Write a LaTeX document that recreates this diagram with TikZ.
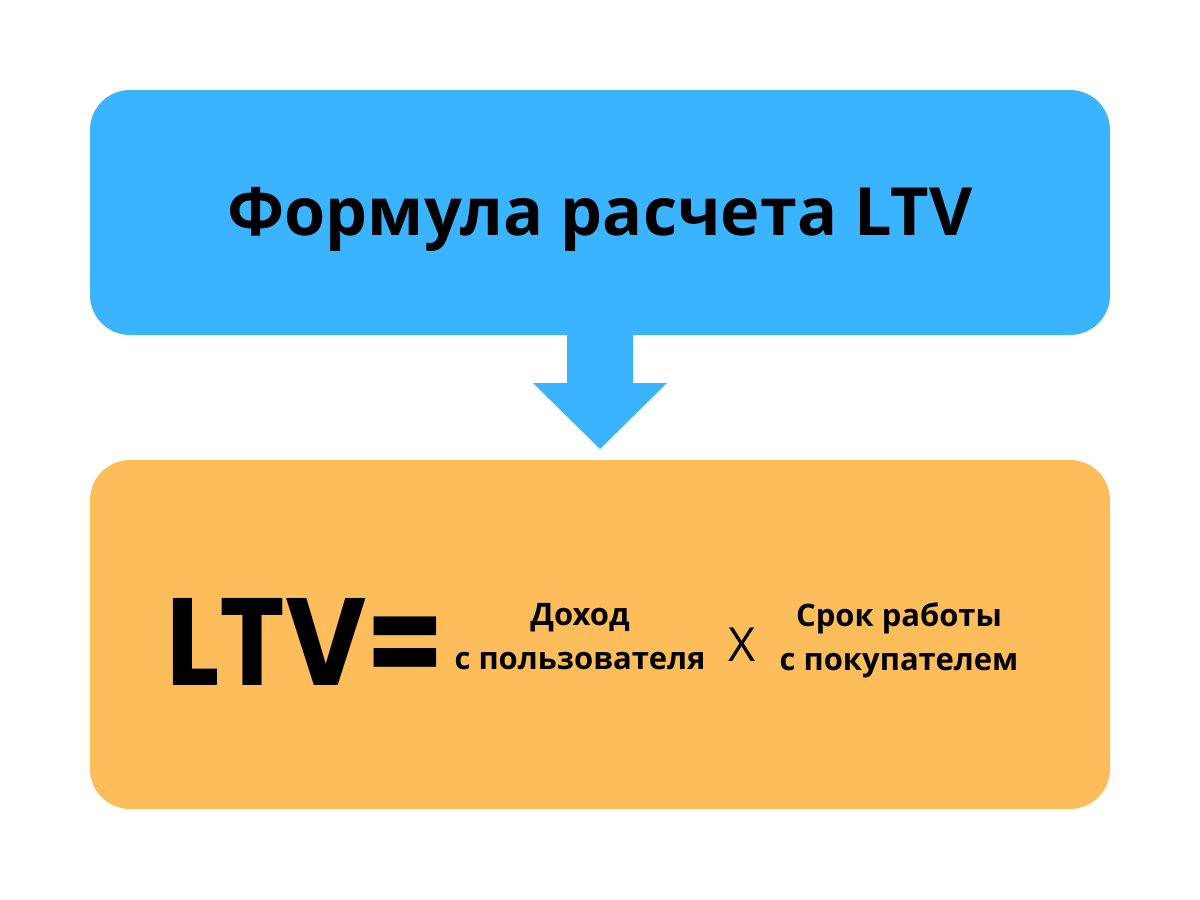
\documentclass[tikz,border=0pt]{standalone}
\usepackage{fontspec}
\setmainfont{Open Sans}
\newfontfamily\popfont{Poppins}
\definecolor{boxblue}{RGB}{59,180,255}
\definecolor{boxorange}{RGB}{253,189,90}
\begin{document}
\begin{tikzpicture}[x=1pt,y=-1pt,
  panel/.style={rounded corners=40pt},
  title/.style={font=\fontsize{66.5}{74}\selectfont\bfseries, text=black, inner sep=0pt},
  small/.style={font=\fontsize{31}{44}\selectfont\bfseries, align=center, inner sep=0pt},
  big/.style={font=\fontsize{124}{126}\selectfont\popfont\bfseries, inner sep=0pt, anchor=base west},
  times/.style={font=\fontsize{47}{50}\selectfont, inner sep=0pt}]
\useasboundingbox (0,0) rectangle (1200,900);
\fill[white] (0,0) rectangle (1200,900);
\fill[boxblue, panel] (90,90) rectangle (1110,335);
\fill[boxorange, panel] (90,460) rectangle (1110,809);
\fill[boxblue] (567,330) -- (633,330) -- (633,383) -- (667,383) -- (600,449) -- (533,383) -- (567,383) -- cycle;
\node[title] (t) at (600,219) {Формула расчета LTV};
\node[big] (ltv) at (166,685) {\scalebox{0.9}[1]{LTV=}};
\node[small] (a) at (580,637) {Доход\\с пользователя};
\node[times] (x) at (742,645) {X};
\node[small] (b) at (899,640) {Срок работы\\с покупателем};
\end{tikzpicture}
\end{document}
